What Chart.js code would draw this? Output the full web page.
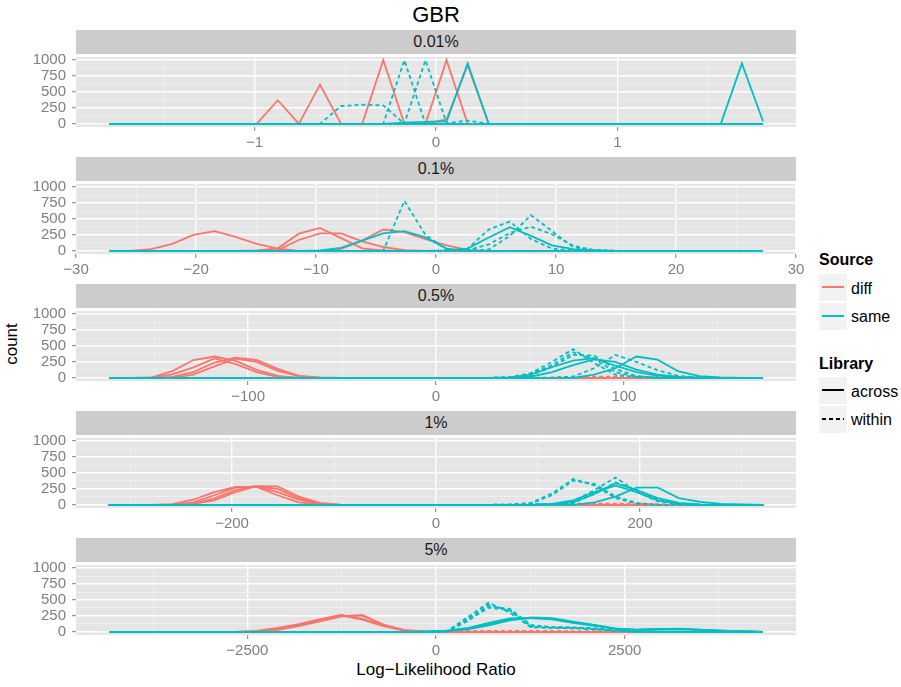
<!DOCTYPE html>
<html lang="en">
<head>
<meta charset="UTF-8">
<title>GBR</title>
<script src="https://cdn.jsdelivr.net/npm/chart.js"></script>
<style>
  body { margin: 0; background: #fff; font-family: "Liberation Sans", Arial, Helvetica, sans-serif; }
  #page { position: relative; width: 901px; height: 687px; overflow: hidden; }
  .txt { position: absolute; white-space: nowrap; color: #000; }
  .strip { position: absolute; left: 76px; width: 720px; height: 24px; line-height: 24px;
           background: #CCCCCC; color: #1A1A1A; font-size: 16px; text-align: center; }
  .panel { position: absolute; left: 0; display: block; }
  .legtitle { position: absolute; left: 819px; font-size: 16px; font-weight: bold; line-height: 18px; }
  .legtext { position: absolute; left: 851px; font-size: 16px; line-height: 18px; }
  .key { position: absolute; left: 819px; width: 28px; height: 27px; background: #F2F2F2; }
  .keyline { position: absolute; left: 3px; width: 22px; top: 12px; height: 2px; }
</style>
</head>
<body>
<div id="page">
  <div class="txt" style="left:436px; top:15px; transform:translate(-50%,-50%); font-size:22px;">GBR</div>
  <div class="txt" style="left:12px; top:344px; transform:translate(-50%,-50%) rotate(-90deg); font-size:17px;">count</div>
  <div class="txt" style="left:436px; top:670px; transform:translate(-50%,-50%); font-size:17px;">Log&minus;Likelihood Ratio</div>

  <div class="legtitle" style="top:251px;">Source</div>
  <div class="key" style="top:274px;"><div class="keyline" style="background:#F8766D;"></div></div>
  <div class="legtext" style="top:280px;">diff</div>
  <div class="key" style="top:303px;"><div class="keyline" style="background:#00BFC4;"></div></div>
  <div class="legtext" style="top:308px;">same</div>

  <div class="legtitle" style="top:355px;">Library</div>
  <div class="key" style="top:377px;"><div class="keyline" style="background:#000;"></div></div>
  <div class="legtext" style="top:383px;">across</div>
  <div class="key" style="top:406px;"><div class="keyline" style="background:repeating-linear-gradient(90deg,#000 0 4px,transparent 4px 7px);"></div></div>
  <div class="legtext" style="top:411px;">within</div>
</div>

<script>
// facet rows
const panelLabels = ['0.01%', '0.1%', '0.5%', '1%', '5%'];
// outermost bin centre and axis half-range for each facet (free x scales)
const binCentreMax = [1.803, 27.25, 174, 321, 4334];
const xLimit = [1.985, 30, 191.6, 353, 4771];
const nBins = 32;

const xMajor = [[-1, 0, 1], [-30, -20, -10, 0, 10, 20, 30], [-100, 0, 100], [-200, 0, 200], [-2500, 0, 2500]];
const xMinor = [[-1.5, -0.5, 0.5, 1.5], [-25, -15, -5, 5, 15, 25], [-150, -50, 50, 150], [-300, -100, 100, 300], [-3750, -1250, 1250, 3750]];
const yMajor = [0, 250, 500, 750, 1000];
const yMinor = [125, 375, 625, 875];
const yRange = [-50, 1050];

// counts per bin: [first non-zero bin, counts...], every other bin is 0
const p1DiffAcross = [[8, [370]], [10, [615]], [13, [1000]], [16, [1000]], [16, [70, 920]]];
const p1DiffWithin = [[0, [0]], [0, [0]]];
const p1SameAcross = [[14, [20, 30, 40, 950]], [30, [950, 40]]];
const p1SameWithin = [[11, [280, 300, 290]], [14, [1000]], [15, [1000, 10, 50]]];

const p2DiffAcross = [[2, [25, 110, 250, 310, 220, 110, 35]], [7, [5, 40, 270, 360, 200, 40, 5]],
                      [8, [10, 170, 275, 275, 150, 60, 10]], [11, [30, 160, 335, 295, 185, 85, 15]]];
const p2DiffWithin = [[0, [0]], [0, [0]]];
const p2SameAcross = [[10, [5, 45, 160, 275, 310, 210, 35]], [16, [5, 35, 210, 370, 235, 85, 25, 10]]];
const p2SameWithin = [[14, [785, 250, 20]], [17, [35, 335, 460, 185, 35, 5]],
                      [18, [20, 235, 560, 310, 60, 10]], [17, [10, 100, 280, 380, 260, 80, 10]]];

const p3DiffAcross = [[2, [5, 105, 280, 335, 265, 125, 30]], [3, [55, 165, 305, 215, 90, 15]],
                      [3, [15, 90, 240, 315, 280, 140, 30, 5]], [4, [50, 180, 300, 250, 110, 25]]];
const p3DiffWithin = [[21, [5, 15, 20, 20, 20, 15, 10, 5]], [22, [10, 15, 15, 15, 10, 5]]];
const p3SameAcross = [[19, [5, 50, 170, 270, 310, 190, 90, 35, 10]], [23, [50, 150, 335, 285, 100, 25, 5]],
                      [20, [20, 90, 200, 290, 250, 130, 50, 15]]];
const p3SameWithin = [[19, [10, 75, 250, 450, 230, 50, 10]], [19, [5, 60, 200, 400, 300, 90, 15]],
                      [19, [5, 40, 170, 360, 350, 140, 30]], [22, [20, 150, 360, 250, 120, 30, 5]]];

const p4DiffAcross = [[3, [10, 80, 200, 280, 280, 150, 40, 5]], [4, [40, 150, 270, 290, 200, 80, 15]],
                      [4, [20, 100, 230, 295, 290, 130, 30]], [4, [15, 70, 200, 290, 250, 100, 20]]];
const p4DiffWithin = [[20, [5, 15, 20, 20, 20, 15, 10, 5]], [21, [10, 15, 15, 10, 5]]];
const p4SameAcross = [[21, [10, 40, 170, 340, 230, 105, 30, 5]], [23, [40, 130, 270, 270, 105, 45, 15, 5]],
                      [21, [15, 70, 200, 300, 200, 70, 15]]];
const p4SameWithin = [[19, [5, 30, 180, 405, 305, 105, 20]], [19, [5, 20, 155, 380, 330, 130, 30]],
                      [21, [10, 55, 230, 430, 205, 55, 10]], [21, [5, 30, 170, 350, 240, 80, 15]]];

const p5DiffAcross = [[7, [10, 50, 110, 190, 265, 205, 100, 25, 5]], [8, [30, 90, 165, 240, 265, 115, 25]],
                      [7, [15, 60, 120, 200, 260, 190, 90, 20]], [8, [40, 100, 180, 250, 255, 110, 20]]];
const p5DiffWithin = [[16, [5, 10, 15, 15, 15, 15, 10, 10, 5]], [17, [10, 15, 15, 10, 5]]];
const p5SameAcross = [[15, [5, 15, 50, 120, 195, 220, 205, 145, 105, 45, 35, 45, 45, 30, 20, 10]],
                      [16, [10, 40, 100, 180, 225, 215, 160, 110, 55, 30, 35, 40, 30, 15, 5]],
                      [16, [20, 60, 140, 210, 215, 195, 140, 95, 50, 30, 40, 50, 35, 20, 10]]];
const p5SameWithin = [[16, [5, 230, 460, 300, 70, 60, 55, 40, 15, 5]], [16, [5, 200, 430, 330, 80, 65, 60, 45, 20, 5]],
                      [17, [170, 400, 360, 110, 70, 65, 50, 25, 5]], [17, [180, 380, 340, 90, 75, 70, 55, 25, 5]]];

const groups = [
  [p1DiffAcross, p1DiffWithin, p1SameAcross, p1SameWithin],
  [p2DiffAcross, p2DiffWithin, p2SameAcross, p2SameWithin],
  [p3DiffAcross, p3DiffWithin, p3SameAcross, p3SameWithin],
  [p4DiffAcross, p4DiffWithin, p4SameAcross, p4SameWithin],
  [p5DiffAcross, p5DiffWithin, p5SameAcross, p5SameWithin]
];

// Source colour x Library linetype; "same" drawn on top of "diff"
const groupStyle = [
  { color: '#F8766D', dash: [], order: 1 },
  { color: '#F8766D', dash: [4, 3], order: 1 },
  { color: '#00BFC4', dash: [], order: 0 },
  { color: '#00BFC4', dash: [4, 3], order: 0 }
];

const FONT = '"Liberation Sans", Arial, Helvetica, sans-serif';
const ROW_TOP = 54, ROW_STEP = 127, PLOT_H = 73;

function binCentres(ext) {
  const out = [];
  for (let k = 0; k < nBins; k++) out.push(-ext + 2 * ext * k / (nBins - 1));
  return out;
}

function expand(line) {
  const c = new Array(nBins).fill(0);
  line[1].forEach((v, i) => { c[line[0] + i] = v; });
  return c;
}

function fmt(v) {
  return String(v).replace('-', '\u2212');
}

// grey panel behind the grid
const panelBackground = {
  id: 'panelBackground',
  beforeDraw(chart) {
    const a = chart.chartArea, ctx = chart.ctx;
    ctx.save();
    ctx.fillStyle = '#E5E5E5';
    ctx.fillRect(a.left, a.top, a.right - a.left, a.bottom - a.top);
    ctx.restore();
  }
};

function gridOpts(majors) {
  const isMajor = c => c.tick && majors.includes(c.tick.value);
  return {
    color: c => isMajor(c) ? '#FFFFFF' : '#F2F2F2',
    lineWidth: c => isMajor(c) ? 1.4 : 0.7,
    tickColor: c => isMajor(c) ? '#7F7F7F' : 'rgba(0,0,0,0)',
    tickWidth: 1,
    tickLength: 4,
    drawTicks: true
  };
}

const page = document.getElementById('page');

panelLabels.forEach((label, p) => {
  const top = ROW_TOP + ROW_STEP * p;

  const strip = document.createElement('div');
  strip.className = 'strip';
  strip.style.top = (top - 24) + 'px';
  strip.textContent = label;
  page.appendChild(strip);

  const canvas = document.createElement('canvas');
  canvas.className = 'panel';
  canvas.width = 820;
  canvas.height = 12 + PLOT_H + 28;
  canvas.style.top = (top - 12) + 'px';
  page.appendChild(canvas);

  const xs = binCentres(binCentreMax[p]);
  const datasets = [];
  groups[p].forEach((lines, g) => {
    lines.forEach(line => {
      const counts = expand(line);
      datasets.push({
        data: xs.map((x, k) => ({ x: x, y: counts[k] })),
        borderColor: groupStyle[g].color,
        borderDash: groupStyle[g].dash,
        borderWidth: 1.8,
        order: groupStyle[g].order,
        fill: false
      });
    });
  });

  const xTicks = xMinor[p].concat(xMajor[p]).sort((a, b) => a - b);
  const yTicks = yMinor.concat(yMajor).sort((a, b) => a - b);

  new Chart(canvas, {
    type: 'line',
    data: { datasets: datasets },
    options: {
      responsive: false,
      animation: false,
      layout: { padding: { top: 12, right: 24, bottom: 0, left: 0 } },
      plugins: { legend: { display: false }, tooltip: { enabled: false } },
      elements: { point: { radius: 0 }, line: { tension: 0 } },
      scales: {
        x: {
          type: 'linear',
          min: -xLimit[p],
          max: xLimit[p],
          afterBuildTicks: s => { s.ticks = xTicks.map(v => ({ value: v })); },
          afterFit: s => { s.height = 28; },
          border: { display: false },
          grid: gridOpts(xMajor[p]),
          ticks: {
            autoSkip: false,
            maxRotation: 0,
            padding: 3,
            color: '#7F7F7F',
            font: { family: FONT, size: 15 },
            callback: v => xMajor[p].includes(v) ? fmt(v) : ''
          }
        },
        y: {
          type: 'linear',
          min: yRange[0],
          max: yRange[1],
          afterBuildTicks: s => { s.ticks = yTicks.map(v => ({ value: v })); },
          afterFit: s => { s.width = 76; },
          border: { display: false },
          grid: gridOpts(yMajor),
          ticks: {
            autoSkip: false,
            padding: 6,
            color: '#7F7F7F',
            font: { family: FONT, size: 15 },
            callback: v => yMajor.includes(v) ? String(v) : ''
          }
        }
      }
    },
    plugins: [panelBackground]
  });
});
</script>
</body>
</html>
